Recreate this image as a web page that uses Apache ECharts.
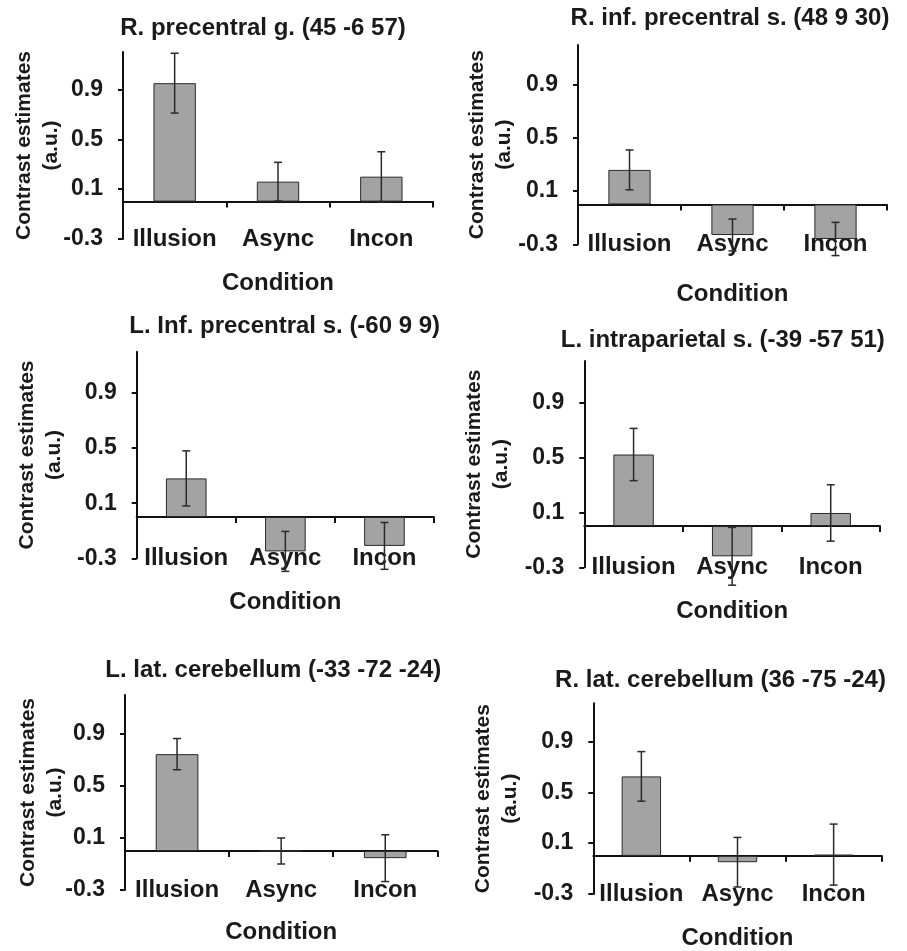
<!DOCTYPE html>
<html>
<head>
<meta charset="utf-8">
<script src="https://cdn.jsdelivr.net/npm/echarts@6/dist/echarts.min.js"></script>
<style>
html,body{margin:0;padding:0;background:#fff;}
#chart{width:907px;height:951px;}
</style>
</head>
<body>
<div id="chart"></div>
<script>
// ---- data ----
const categories = ['Illusion', 'Async', 'Incon'];
const panelTitles = [
  'R. precentral g. (45 -6 57)',
  'R. inf. precentral s. (48 9 30)',
  'L. Inf. precentral s. (-60 9 9)',
  'L. intraparietal s. (-39 -57 51)',
  'L. lat. cerebellum (-33 -72 -24)',
  'R. lat. cerebellum (36 -75 -24)'
];
const yTickValues = [-0.3, 0.1, 0.5, 0.9];
const yMin = -0.3, yMax = 1.2;
const xAxisName = 'Condition';
const yAxisName = 'Contrast estimates\n(a.u.)';

const values1 = [0.95, 0.16, 0.20];
const errors1 = [0.24, 0.155, 0.20];
const values2 = [0.26, -0.23, -0.26];
const errors2 = [0.15, 0.12, 0.125];
const values3 = [0.28, -0.25, -0.21];
const errors3 = [0.20, 0.145, 0.17];
const values4 = [0.52, -0.22, 0.095];
const errors4 = [0.19, 0.21, 0.205];
const values5 = [0.745, 0, -0.055];
const errors5 = [0.12, 0.10, 0.18];
const values6 = [0.625, -0.05, 0.01];
const errors6 = [0.195, 0.195, 0.24];

const panelValues = [values1, values2, values3, values4, values5, values6];
const panelErrors = [errors1, errors2, errors3, errors4, errors5, errors6];

// ---- layout (pixels) ----
const layout = [
  {left: 123,   top: 52,    width: 310,   height: 187,   tx: 263,   ty: 28,    yGap: 58,   xGap: 32},
  {left: 578,   top: 45,    width: 309,   height: 199.3, tx: 730,   ty: 18,    yGap: 60,   xGap: 38.5},
  {left: 136.7, top: 351.7, width: 297.3, height: 206.6, tx: 284.7, ty: 326.7, yGap: 68.5, xGap: 32.5},
  {left: 584.3, top: 361,   width: 295.7, height: 206.3, tx: 722.8, ty: 340,   yGap: 69.5, xGap: 32.5},
  {left: 125,   top: 695,   width: 312.3, height: 195,   tx: 273.3, ty: 670,   yGap: 56,   xGap: 30.5},
  {left: 593.3, top: 703.3, width: 288.4, height: 194.4, tx: 720.5, ty: 680,   yGap: 70,   xGap: 32}
];

const FONT = "'Liberation Sans', Arial, Helvetica, sans-serif";
const TXT = '#1a1a1a';
const AXIS = '#111';

const grids = [], xAxes = [], yAxes = [], series = [], titles = [];

function errRender(params, api) {
  const x = api.value(0), v = api.value(1), e = api.value(2);
  const top = api.coord([x, v + e]);
  const bot = api.coord([x, v - e]);
  const cap = 4;
  const st = {stroke: '#2a2a2a', lineWidth: 1.5};
  return {
    type: 'group',
    children: [
      {type: 'line', shape: {x1: top[0], y1: top[1], x2: bot[0], y2: bot[1]}, style: st},
      {type: 'line', shape: {x1: top[0] - cap, y1: top[1], x2: top[0] + cap, y2: top[1]}, style: st},
      {type: 'line', shape: {x1: bot[0] - cap, y1: bot[1], x2: bot[0] + cap, y2: bot[1]}, style: st}
    ]
  };
}

layout.forEach((L, i) => {
  grids.push({left: L.left, top: L.top, width: L.width, height: L.height, containLabel: false});
  titles.push({
    text: panelTitles[i], left: L.tx, top: L.ty, textAlign: 'center', textVerticalAlign: 'middle', padding: 0,
    textStyle: {fontFamily: FONT, fontSize: 24, fontWeight: 'bold', color: TXT}
  });
  // axis line at zero with ticks between categories
  xAxes.push({
    type: 'category', gridIndex: i, data: categories, position: 'bottom',
    axisLine: {show: true, onZero: true, lineStyle: {color: AXIS, width: 2}},
    axisTick: {show: true, length: 6, lineStyle: {color: AXIS, width: 2}},
    axisLabel: {show: false}, splitLine: {show: false}
  });
  // labels at the bottom of the plot
  xAxes.push({
    type: 'category', gridIndex: i, data: categories, position: 'bottom',
    axisLine: {show: false, onZero: false}, axisTick: {show: false}, splitLine: {show: false},
    axisLabel: {show: true, interval: 0, hideOverlap: false, margin: 0, verticalAlign: 'middle',
      fontFamily: FONT, fontSize: 24, fontWeight: 'bold', color: TXT},
    name: xAxisName, nameLocation: 'middle', nameGap: L.xGap, nameMoveOverlap: false,
    nameTextStyle: {fontFamily: FONT, fontSize: 24, fontWeight: 'bold', color: TXT, verticalAlign: 'top'}
  });
  yAxes.push({
    type: 'value', gridIndex: i, min: yMin, max: yMax, interval: 0.4,
    axisLine: {show: true, onZero: false, lineStyle: {color: AXIS, width: 2}},
    axisTick: {show: true, length: 5, customValues: yTickValues, lineStyle: {color: AXIS, width: 2}},
    axisLabel: {
      show: true, margin: 20, customValues: yTickValues,
      fontFamily: FONT, fontSize: 23, fontWeight: 'bold', color: TXT,
      formatter: v => (v > 1.1 ? '' : (Math.round(v * 10) / 10).toFixed(1))
    },
    splitLine: {show: false},
    name: yAxisName, nameLocation: 'middle', nameGap: L.yGap, nameMoveOverlap: false,
    nameTextStyle: {fontFamily: FONT, fontSize: 21, fontWeight: 'bold', color: TXT, lineHeight: 27, align: 'center'}
  });
  series.push({
    type: 'bar', xAxisIndex: i * 2, yAxisIndex: i, data: panelValues[i], barWidth: '41%',
    itemStyle: {color: '#a3a3a3', borderColor: '#2a2a2a', borderWidth: 1},
    silent: true, z: 2
  });
  series.push({
    type: 'custom', xAxisIndex: i * 2, yAxisIndex: i, renderItem: errRender,
    encode: {x: 0, y: 1}, dimensions: ['cat', 'value', 'err'],
    data: categories.map((c, k) => [k, panelValues[i][k], panelErrors[i][k]]),
    silent: true, z: 5, clip: false
  });
});

const chart = echarts.init(document.getElementById('chart'), null, {renderer: 'canvas'});
chart.setOption({
  animation: false,
  backgroundColor: '#ffffff',
  title: titles,
  grid: grids,
  xAxis: xAxes,
  yAxis: yAxes,
  series: series
});
</script>
</body>
</html>
